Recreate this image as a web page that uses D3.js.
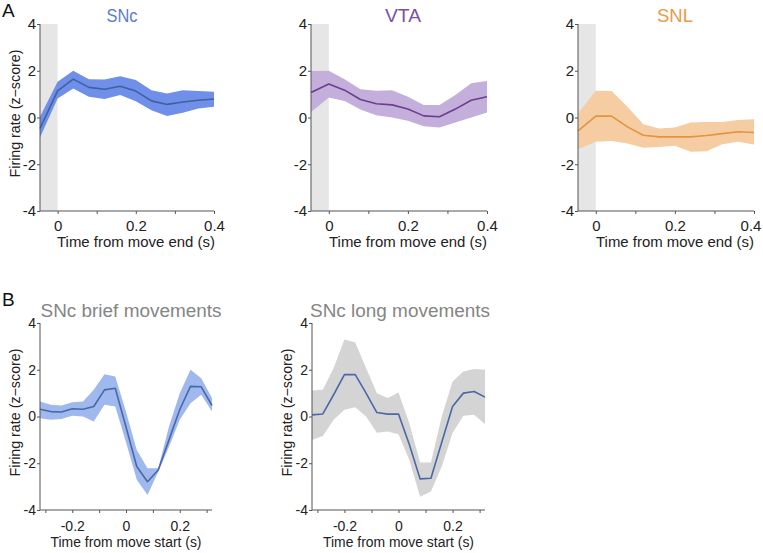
<!DOCTYPE html>
<html><head><meta charset="utf-8">
<script src="https://cdn.jsdelivr.net/npm/d3@7"></script>
<style>body{margin:0;background:#fff}text{font-family:"Liberation Sans",Arial,sans-serif}</style>
</head><body><svg id="c" width="763" height="553"></svg>
<script>
const tA = [-0.045,0,0.04,0.08,0.12,0.16,0.2,0.24,0.28,0.32,0.36,0.4];
const sncMean = [-0.47,1.14,1.64,1.29,1.21,1.34,1.13,0.71,0.56,0.66,0.74,0.79];
const sncHi   = [0.03,1.53,2.0,1.64,1.63,1.76,1.6,1.17,1.03,1.17,1.13,1.1];
const sncLo   = [-0.86,0.81,1.24,0.89,0.79,0.96,0.7,0.31,0.06,0.2,0.39,0.46];
const vtaMean = [1.07,1.43,1.17,0.77,0.59,0.54,0.36,0.07,0.03,0.36,0.74,0.89];
const vtaHi   = [1.99,2.0,1.64,1.21,1.14,1.17,0.89,0.53,0.53,0.96,1.46,1.56];
const vtaLo   = [0.24,0.86,0.71,0.34,0.1,0,-0.14,-0.37,-0.43,-0.21,0,0.21];
const snlMean = [-0.57,0.06,0.06,-0.4,-0.76,-0.83,-0.83,-0.83,-0.77,-0.69,-0.61,-0.64];
const snlHi   = [0.17,1.14,1.13,0.46,-0.29,-0.47,-0.43,-0.21,-0.19,-0.19,-0.11,-0.07];
const snlLo   = [-1.36,-1.04,-1.01,-1.11,-1.29,-1.26,-1.21,-1.47,-1.44,-1.14,-1.04,-1.16];

const tB = [-0.32,-0.28,-0.24,-0.2,-0.16,-0.12,-0.08,-0.04,0,0.04,0.08,0.12,0.16,0.2,0.24,0.28,0.32];
const briefMean = [0.31,0.21,0.19,0.33,0.31,0.43,1.14,1.21,-0.45,-2.14,-2.79,-2.29,-1.0,0.3,1.29,1.27,0.47];
const briefHi   = [0.64,0.5,0.47,0.61,0.64,1.14,1.81,1.71,0.2,-1.43,-2.21,-2.21,-0.43,1.0,2.0,1.64,0.79];
const briefLo   = [-0.07,-0.14,-0.11,0.03,0,-0.21,0.5,0.43,-1.1,-2.71,-3.36,-2.36,-1.29,-0.14,0.57,0.93,0.21];
const longMean  = [0.07,0.11,0.93,1.79,1.79,1.0,0.17,0.1,0.11,-1.2,-2.67,-2.64,-1.1,0.43,1.0,1.07,0.83];
const longHi    = [1.11,1.14,2.07,3.29,3.17,2.07,1.0,0.79,1.03,-0.29,-1.97,-1.97,0,1.5,1.93,2.03,2.0];
const longLo    = [-1.0,-0.83,-0.14,0.29,0.4,0,-0.69,-0.64,-0.76,-1.86,-3.43,-3.21,-2.14,-0.71,0.03,0.07,-0.33];

const yTicks = [-4,-2,0,2,4];
const xTicksA = [0,0.1,0.2,0.3,0.4];
const xLabelsA = {"0":"0","0.2":"0.2","0.4":"0.4"};
const xTicksB = [-0.3,-0.2,-0.1,0,0.1,0.2,0.3];
const xLabelsB = {"-0.2":"-0.2","0":"0","0.2":"0.2"};

const svg = d3.select("#c");
const axisColor = "#555";

function panel(o){
  const x = d3.scaleLinear().domain(o.xdom).range(o.xr);
  const y = d3.scaleLinear().domain([-4,4]).range(o.yr);
  const g = svg.append("g");
  if(o.shade){
    g.append("rect").attr("x",x(o.xdom[0])).attr("y",y(4))
      .attr("width",x(0)-x(o.xdom[0])).attr("height",y(-4)-y(4)).attr("fill","#e6e6e6");
  }
  const data = o.t.map((t,i)=>({t,m:o.mean[i],h:o.hi[i],l:o.lo[i]}));
  g.append("path").datum(data).attr("fill",o.band)
    .attr("d",d3.area().x(d=>x(d.t)).y0(d=>y(d.l)).y1(d=>y(d.h)));
  g.append("path").datum(data).attr("fill","none").attr("stroke",o.line).attr("stroke-width",1.6)
    .attr("stroke-linejoin","round")
    .attr("d",d3.line().x(d=>x(d.t)).y(d=>y(d.m)));
  const fs = o.tickFs;
  const xa = d3.axisBottom(x).tickValues(o.xticks).tickSize(3).tickPadding(o.tickBase - 0.71*fs - 3)
    .tickFormat(d=>{const k=String(+d.toFixed(2));return o.xlabels[k]!==undefined?o.xlabels[k]:"";});
  const gx = g.append("g").attr("transform",`translate(0,${y(-4)})`).call(xa);
  const ya = d3.axisLeft(y).tickValues(yTicks).tickSize(3).tickPadding(1).tickFormat(d=>String(d));
  const gy = g.append("g").attr("transform",`translate(${x(o.xdom[0])},0)`).call(ya);
  [gx,gy].forEach(a=>{
    a.select(".domain").attr("stroke",axisColor).attr("d", a===gx ? `M${o.xr[0]},0H${o.xr[1]}` : `M0,${o.yr[0]}V${o.yr[1]}`);
    a.selectAll(".tick line").attr("stroke",axisColor);
    a.selectAll(".tick text").attr("fill","#222").style("font-size",fs+"px").style("font-family","Liberation Sans, Arial, sans-serif");
  });
  if(o.lastDx){
    gx.selectAll(".tick text").filter(d=>Math.abs(d-o.xdom[1])<1e-9).attr("dx",o.lastDx);
  }
  g.append("text").attr("x",(o.xr[0]+o.xr[1])/2+o.xlOff).attr("y",y(-4)+o.xlDy)
    .attr("text-anchor","middle").style("font-size","14px").attr("fill","#222")
    .attr("textLength",o.xlLen).attr("lengthAdjust","spacingAndGlyphs").text(o.xlabel);
  if(o.ylabel){
    g.append("text").attr("transform",`translate(${o.xr[0]-20},${(o.yr[0]+o.yr[1])/2-4}) rotate(-90)`)
      .attr("text-anchor","middle").style("font-size","14px").attr("fill","#222")
      .attr("textLength",128).attr("lengthAdjust","spacingAndGlyphs").text(o.ylabel);
  }
  g.append("text").attr("x",o.titleX).attr("y",o.titleY).attr("text-anchor","middle")
    .style("font-size","18px").attr("fill",o.titleColor)
    .attr("textLength",o.titleLen).attr("lengthAdjust","spacingAndGlyphs").text(o.title);
}

const yl = "Firing rate (z\u2212score)";
const A = {xdom:[-0.045,0.4], yr:[211,24], t:tA, xticks:xTicksA, xlabels:xLabelsA, shade:true,
  xlabel:"Time from move end (s)", xlOff:9, xlDy:36, xlLen:158, titleY:22, tickFs:15, tickBase:20};
panel({...A, xr:[40,214], mean:sncMean, hi:sncHi, lo:sncLo, band:"#6f8fe8", line:"#40609f",
  ylabel:yl, title:"SNc", titleColor:"#5b7cc8", titleX:122, titleLen:31});
panel({...A, xr:[311,487], mean:vtaMean, hi:vtaHi, lo:vtaLo, band:"#c4aedb", line:"#6a3f8f",
  title:"VTA", titleColor:"#7a4fa3", titleX:403, titleLen:36});
panel({...A, xr:[578,754], mean:snlMean, hi:snlHi, lo:snlLo, band:"#f6cca2", line:"#e39440",
  title:"SNL", titleColor:"#e89a4a", titleX:675, titleLen:36, lastDx:-3.5});

const B = {xdom:[-0.32,0.32], yr:[510,323], t:tB, xticks:xTicksB, xlabels:xLabelsB, shade:false,
  xlabel:"Time from move start (s)", xlOff:0, xlDy:37, xlLen:151, titleY:317, ylabel:yl, titleColor:"#858585",
  tickFs:14, tickBase:21};
panel({...B, xr:[40,212], mean:briefMean, hi:briefHi, lo:briefLo, band:"#9fb9ef", line:"#4a68a6",
  title:"SNc brief movements", titleX:131, titleLen:181});
panel({...B, xr:[312,485], mean:longMean, hi:longHi, lo:longLo, band:"#d4d4d4", line:"#4a68a6",
  title:"SNc long movements", titleX:400, titleLen:180});

svg.append("text").attr("x",2).attr("y",17).style("font-size","19px").attr("fill","#111").text("A");
svg.append("text").attr("x",2).attr("y",306).style("font-size","19px").attr("fill","#111").text("B");
</script></body></html>
